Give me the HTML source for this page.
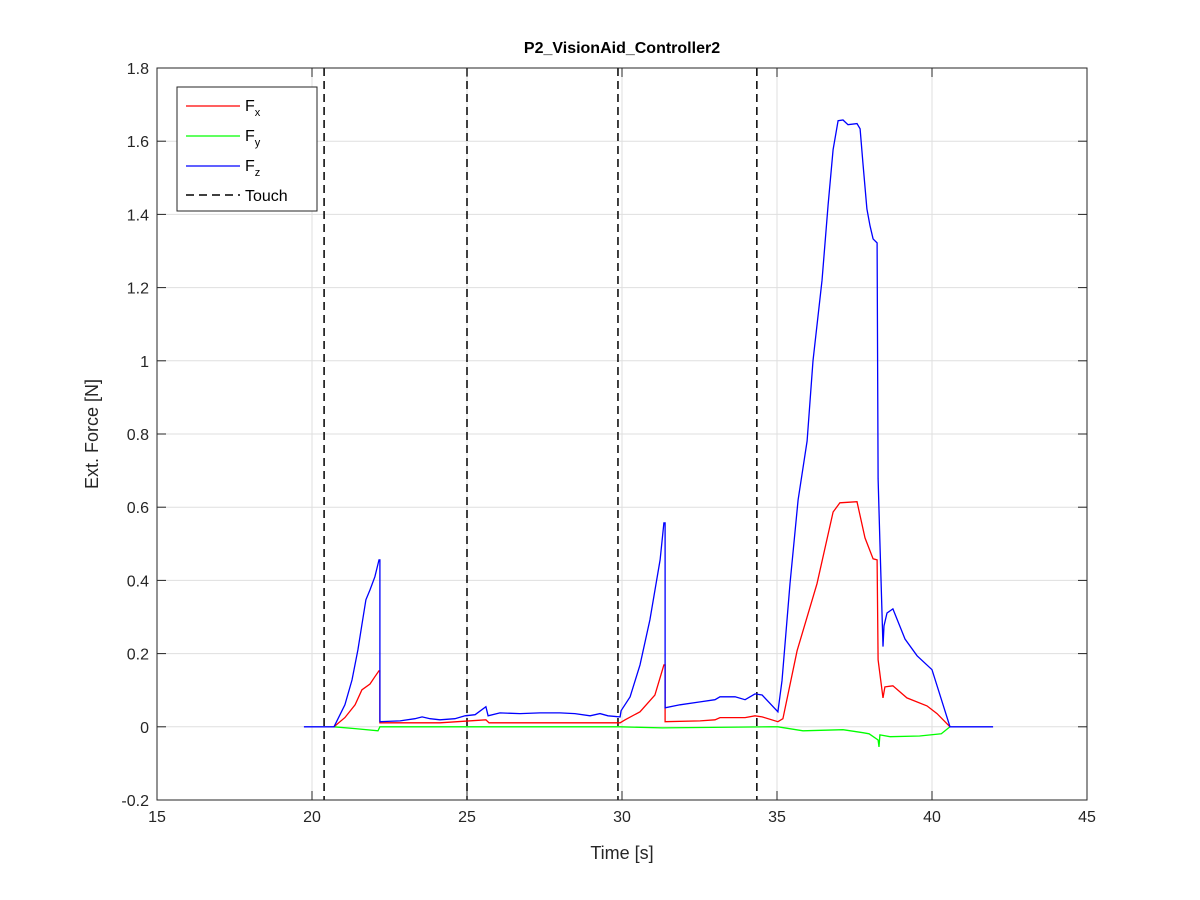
<!DOCTYPE html>
<html><head><meta charset="utf-8"><style>
body{margin:0;background:#fff;}
svg{display:block;font-family:"Liberation Sans",Arial,sans-serif;}
</style></head><body>
<svg id="chart" width="1200" height="900">
<rect width="1200" height="900" fill="#fff"/>
<g id="grid"></g>
<g id="series"></g>
<g id="axes"></g>
</svg>
<script>
const xTicks=[15,20,25,30,35,40,45];
const yTicks=[-0.2,0,0.2,0.4,0.6,0.8,1,1.2,1.4,1.6,1.8];
const yTickLabels=["-0.2","0","0.2","0.4","0.6","0.8","1","1.2","1.4","1.6","1.8"];
const touchTimes=[20.39,25.0,29.87,34.35];
const fzT=[19.74,20.71,21.06,21.29,21.48,21.61,21.74,21.87,22.03,22.16,22.19,22.19,22.84,23.32,23.55,23.81,24.13,24.61,24.94,25.26,25.61,25.68,26.06,26.71,27.35,28.0,28.48,28.97,29.29,29.55,29.94,29.97,30.26,30.58,30.9,31.23,31.35,31.39,31.39,31.87,32.52,33.0,33.16,33.65,33.97,34.29,34.52,35.03,35.16,35.42,35.68,35.97,36.16,36.45,36.65,36.81,36.97,37.13,37.29,37.58,37.68,37.77,37.9,38.0,38.1,38.23,38.26,38.32,38.42,38.45,38.55,38.74,39.13,39.52,40.0,40.58,41.97];
const fzV=[0,0,0.06,0.128,0.21,0.279,0.347,0.374,0.41,0.456,0.456,0.014,0.016,0.022,0.027,0.022,0.019,0.022,0.03,0.033,0.055,0.03,0.038,0.036,0.038,0.038,0.036,0.03,0.036,0.03,0.027,0.044,0.082,0.169,0.292,0.456,0.557,0.557,0.052,0.06,0.068,0.074,0.082,0.082,0.074,0.09,0.087,0.041,0.126,0.391,0.62,0.781,1.0,1.219,1.426,1.577,1.656,1.658,1.645,1.648,1.634,1.541,1.415,1.369,1.333,1.322,0.678,0.505,0.219,0.276,0.311,0.322,0.24,0.194,0.156,0,0];
const fxT=[20.71,21.06,21.39,21.61,21.87,22.03,22.16,22.19,22.19,24.13,25.61,25.71,29.94,30.1,30.58,31.06,31.35,31.39,31.39,32.52,33.0,33.16,33.97,34.29,34.52,35.03,35.19,35.65,36.29,36.81,37.03,37.58,37.84,38.1,38.23,38.26,38.42,38.48,38.74,39.19,39.84,40.16,40.58];
const fxV=[0,0.025,0.06,0.101,0.117,0.137,0.153,0.153,0.011,0.011,0.019,0.011,0.011,0.019,0.041,0.087,0.169,0.169,0.014,0.016,0.019,0.025,0.025,0.03,0.027,0.014,0.022,0.208,0.391,0.587,0.612,0.615,0.516,0.459,0.456,0.183,0.079,0.109,0.112,0.079,0.057,0.036,0];
const fyT=[20.71,21.39,22.13,22.19,29.94,31.3,34.8,35.03,35.84,37.13,37.77,37.97,38.26,38.29,38.32,38.65,39.6,40.3,40.58];
const fyV=[0,-0.005,-0.011,0,0,-0.003,0,0,-0.011,-0.008,-0.016,-0.019,-0.036,-0.055,-0.022,-0.027,-0.025,-0.019,0];

const L=157,R=1087,T=68,B=800;
const X=t=>L+(t-15)/30*(R-L);
const Y=v=>B-(v+0.2)/2*(B-T);
const NS='http://www.w3.org/2000/svg';
function mk(tag,attrs,parent,txt){const e=document.createElementNS(NS,tag);for(const k in attrs)e.setAttribute(k,attrs[k]);if(txt!==undefined)e.textContent=txt;parent.appendChild(e);return e;}
const grid=document.getElementById('grid'),ser=document.getElementById('series'),ax=document.getElementById('axes');
mk('rect',{x:L,y:T,width:R-L,height:B-T,fill:'#fff'},grid);
xTicks.forEach(t=>{const l=mk('line',{x1:X(t),x2:X(t),y1:T,y2:B,stroke:'#dfdfdf','stroke-width':1},grid);

});
yTicks.forEach(v=>{const l=mk('line',{x1:L,x2:R,y1:Y(v),y2:Y(v),stroke:'#dfdfdf','stroke-width':1},grid);

});
touchTimes.forEach(t=>{const l=mk('line',{x1:X(t),x2:X(t),y1:T,y2:B,stroke:'#000','stroke-width':1.5,'stroke-dasharray':'8,5'},ser);

});
function line(ts,vs,c,name){const d=ts.map((t,i)=>(i?'L':'M')+X(t).toFixed(1)+','+Y(vs[i]).toFixed(1)).join('');
const p=mk('path',{d:d,fill:'none',stroke:c,'stroke-width':1.3},ser);

}
line(fyT,fyV,'#00ff00','fy-line');
line(fxT,fxV,'#ff0000','fx-line');
line(fzT,fzV,'#0000ff','fz-line');
mk('rect',{x:L,y:T,width:R-L,height:B-T,fill:'none',stroke:'#262626','stroke-width':1},ax);
xTicks.forEach(t=>{mk('line',{x1:X(t),x2:X(t),y1:B,y2:B-9,stroke:'#262626'},ax);mk('line',{x1:X(t),x2:X(t),y1:T,y2:T+9,stroke:'#262626'},ax);
const tx=mk('text',{x:X(t),y:B+22,'text-anchor':'middle','font-size':16,fill:'#262626'},ax,String(t));

});
yTicks.forEach((v,i)=>{mk('line',{x1:L,x2:L+9,y1:Y(v),y2:Y(v),stroke:'#262626'},ax);mk('line',{x1:R,x2:R-9,y1:Y(v),y2:Y(v),stroke:'#262626'},ax);
const tx=mk('text',{x:L-8,y:Y(v)+6,'text-anchor':'end','font-size':16,fill:'#262626'},ax,yTickLabels[i]);

});
</script>
<svg style="position:absolute;left:0;top:0" width="1200" height="900">
<text x="622" y="53" text-anchor="middle" font-size="16" font-weight="bold" fill="#000">P2_VisionAid_Controller2</text>
<text x="622" y="859" text-anchor="middle" font-size="18" fill="#262626">Time [s]</text>
<text transform="translate(98,434) rotate(-90)" text-anchor="middle" font-size="18" fill="#262626">Ext. Force [N]</text>
<g>
<rect x="177" y="87" width="140" height="124" fill="#fff" stroke="#262626" stroke-width="1"/>
<g><line x1="186" x2="240" y1="106" y2="106" stroke="#f00" stroke-width="1.3"/><text x="245" y="111" font-size="16" fill="#000">F<tspan font-size="11" dy="5">x</tspan></text></g>
<g><line x1="186" x2="240" y1="136" y2="136" stroke="#0f0" stroke-width="1.3"/><text x="245" y="141" font-size="16" fill="#000">F<tspan font-size="11" dy="5">y</tspan></text></g>
<g><line x1="186" x2="240" y1="166" y2="166" stroke="#00f" stroke-width="1.3"/><text x="245" y="171" font-size="16" fill="#000">F<tspan font-size="11" dy="5">z</tspan></text></g>
<g><line x1="186" x2="240" y1="195" y2="195" stroke="#000" stroke-width="1.5" stroke-dasharray="8,5"/><text x="245" y="201" font-size="16" fill="#000">Touch</text></g>
</g>
</svg>
</body></html>
